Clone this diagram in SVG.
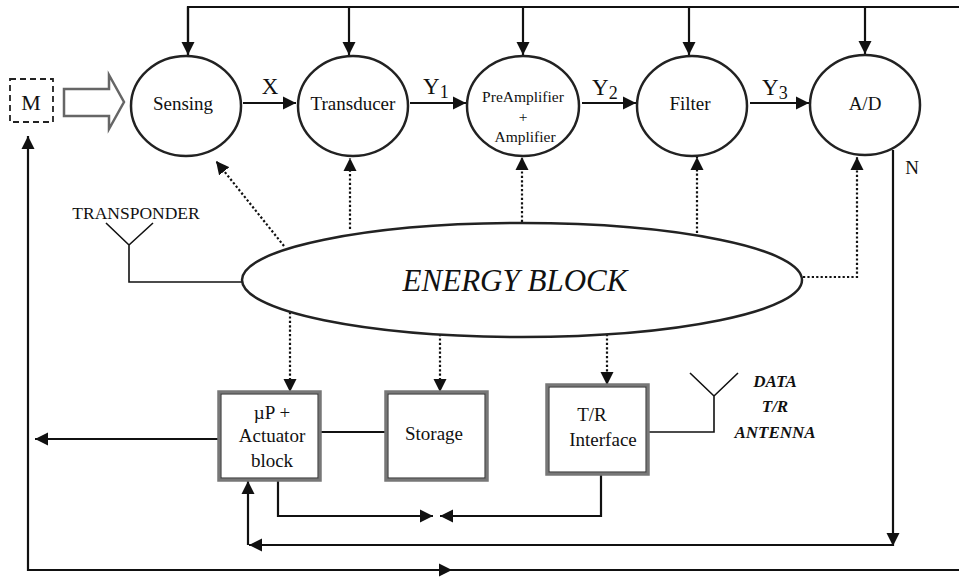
<svg xmlns="http://www.w3.org/2000/svg" width="959" height="577" viewBox="0 0 959 577" font-family="'Liberation Serif', 'Times New Roman', serif">
<style>
text{font-family:"Liberation Serif","Times New Roman",serif;fill:#111}
.c{fill:#fff;stroke:#222;stroke-width:2.5}
.ln{fill:none;stroke:#111;stroke-width:2.2}
.thin{fill:none;stroke:#111;stroke-width:1.6}
.dot{fill:none;stroke:#111;stroke-width:2.2;stroke-dasharray:2.2 2.2}
.box{fill:#fff;stroke:#777;stroke-width:3.5}
.boxi{fill:none;stroke:#222;stroke-width:1}
</style>
<defs>
<marker id="ah" viewBox="0 0 10 10" refX="10" refY="5" markerWidth="6" markerHeight="6" markerUnits="strokeWidth" orient="auto"><path d="M0,0 L10,5 L0,10 z" fill="#111"/></marker>
</defs>
<rect width="959" height="577" fill="#fff"/>

<g id="connectors">
  <path class="ln" d="M188,57 V7 H959"/>
  <path class="ln" d="M349,7 V55" marker-end="url(#ah)"/>
  <path class="ln" d="M188,7 V55" marker-end="url(#ah)"/>
  <path class="ln" d="M523,7 V55" marker-end="url(#ah)"/>
  <path class="ln" d="M689,7 V55" marker-end="url(#ah)"/>
  <path class="ln" d="M865,7 V54" marker-end="url(#ah)"/>
  <path class="ln" d="M243,103 H296" marker-end="url(#ah)"/>
  <path class="ln" d="M410,103 H466" marker-end="url(#ah)"/>
  <path class="ln" d="M582,103 H636" marker-end="url(#ah)"/>
  <path class="ln" d="M750,103 H809" marker-end="url(#ah)"/>
  <path class="ln" d="M893,150 V546" marker-end="url(#ah)"/>
  <path class="ln" d="M893,545 H249" marker-end="url(#ah)"/>
  <path class="ln" d="M248,545 V481" marker-end="url(#ah)"/>
  <path class="ln" d="M959,570 H28 V136" marker-end="url(#ah)"/>
  <path class="ln" d="M300,570 H452" marker-end="url(#ah)"/>
  <path class="ln" d="M219,439 H35" marker-end="url(#ah)"/>
  <path class="ln" d="M320,432 H386"/>
  <path class="ln" d="M278,480 V516 H433" marker-end="url(#ah)"/>
  <path class="ln" d="M601,474 V516 H440" marker-end="url(#ah)"/>
  <path class="dot" d="M284,246 L216,161" marker-end="url(#ah)"/>
  <path class="dot" d="M350,229 V158" marker-end="url(#ah)"/>
  <path class="dot" d="M522,222 V157" marker-end="url(#ah)"/>
  <path class="dot" d="M697,233 V157" marker-end="url(#ah)"/>
  <path class="dot" d="M803,277 H857 V157" marker-end="url(#ah)"/>
  <path class="dot" d="M290,312 V392" marker-end="url(#ah)"/>
  <path class="dot" d="M440,334 V392" marker-end="url(#ah)"/>
  <path class="dot" d="M607,334 V385" marker-end="url(#ah)"/>
  <path class="thin" d="M106,223 L129,245 L153,223 M129,245 V282 H242"/>
  <path class="thin" d="M648,432 H714 V396 M690,373 L714,396 L738,373"/>
</g>

<g id="labels">
  <text x="270" y="94" font-size="23" text-anchor="middle">X</text>
  <text x="423" y="94" font-size="23">Y<tspan font-size="18" dy="4">1</tspan></text>
  <text x="592" y="95" font-size="23">Y<tspan font-size="18" dy="4">2</tspan></text>
  <text x="762" y="95" font-size="23">Y<tspan font-size="18" dy="4">3</tspan></text>
  <text x="912" y="174" font-size="19" text-anchor="middle">N</text>
  <text x="136" y="219" font-size="17.5" text-anchor="middle">TRANSPONDER</text>
  <text x="775" y="387" font-size="17" font-weight="bold" font-style="italic" text-anchor="middle">DATA</text>
  <text x="775" y="412" font-size="17" font-weight="bold" font-style="italic" text-anchor="middle">T/R</text>
  <text x="775" y="438" font-size="17" font-weight="bold" font-style="italic" text-anchor="middle">ANTENNA</text>
</g>

<g id="M">
  <rect x="10" y="79" width="43" height="43" fill="none" stroke="#222" stroke-width="1.8" stroke-dasharray="6 4"/>
  <text x="31" y="110" font-size="22" text-anchor="middle">M</text>
</g>
<g id="input-arrow">
  <path d="M64,89 H109 V75 L124,102 L109,129 V116 H64 Z" fill="#fff" stroke="#666" stroke-width="2.5"/>
</g>

<g id="sensing">
  <ellipse class="c" cx="186" cy="106" rx="55" ry="50"/>
  <text x="183" y="110" font-size="19" text-anchor="middle">Sensing</text>
</g>
<g id="transducer">
  <ellipse class="c" cx="353" cy="106" rx="55" ry="50"/>
  <text x="353" y="110" font-size="19" text-anchor="middle">Transducer</text>
</g>
<g id="preamp">
  <ellipse class="c" cx="523" cy="106" rx="56" ry="50"/>
  <text x="523" y="102" font-size="15.5" text-anchor="middle">PreAmplifier</text>
  <text x="523" y="122" font-size="15.5" text-anchor="middle">+</text>
  <text x="525" y="142" font-size="15.5" text-anchor="middle">Amplifier</text>
</g>
<g id="filter">
  <ellipse class="c" cx="692" cy="106" rx="55" ry="50"/>
  <text x="690" y="110" font-size="19" text-anchor="middle">Filter</text>
</g>
<g id="ad">
  <ellipse class="c" cx="865" cy="105" rx="55" ry="50"/>
  <text x="865" y="110" font-size="19" text-anchor="middle">A/D</text>
</g>

<g id="energy">
  <ellipse class="c" cx="522" cy="280" rx="280" ry="57"/>
  <text x="515" y="291" font-size="31" font-style="italic" text-anchor="middle">ENERGY BLOCK</text>
</g>

<g id="up">
  <rect class="box" x="219" y="392" width="101" height="88"/>
  <rect class="boxi" x="221" y="394" width="97" height="84"/>
  <text x="272" y="419" font-size="19" text-anchor="middle">µP +</text>
  <text x="272" y="442" font-size="19" text-anchor="middle">Actuator</text>
  <text x="272" y="467" font-size="19" text-anchor="middle">block</text>
</g>
<g id="storage">
  <rect class="box" x="386" y="392" width="101" height="88"/>
  <rect class="boxi" x="388" y="394" width="97" height="84"/>
  <text x="434" y="440" font-size="19" text-anchor="middle">Storage</text>
</g>
<g id="tr">
  <rect class="box" x="547" y="385" width="101" height="89"/>
  <rect class="boxi" x="549" y="387" width="97" height="85"/>
  <text x="592" y="421" font-size="19" text-anchor="middle">T/R</text>
  <text x="603" y="446" font-size="19" text-anchor="middle">Interface</text>
</g>
</svg>
